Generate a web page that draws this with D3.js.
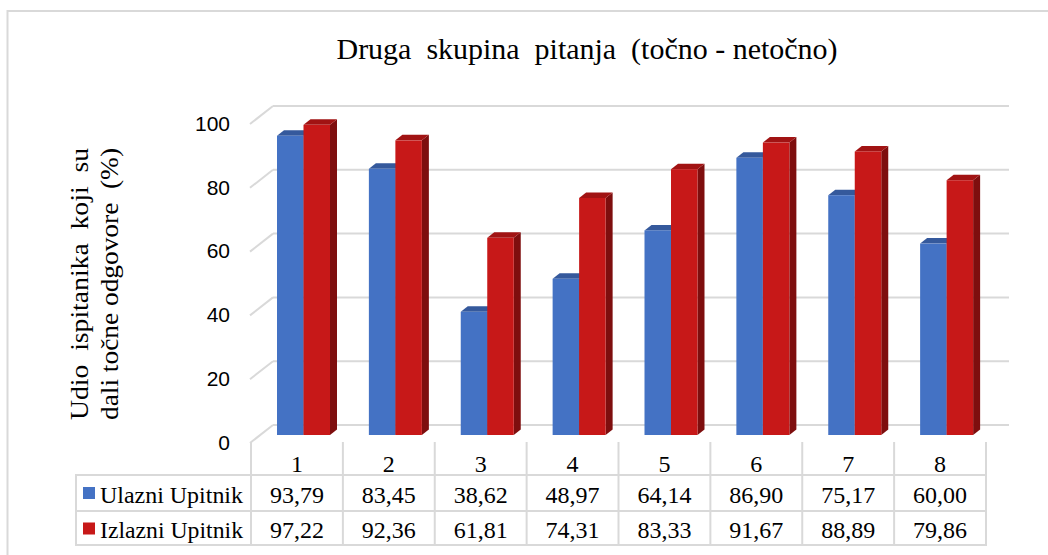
<!DOCTYPE html>
<html>
<head>
<meta charset="utf-8">
<script src="https://cdn.jsdelivr.net/npm/d3@7/dist/d3.min.js"></script>
<style>
  html, body { margin: 0; padding: 0; background: #fff; }
  svg { display: block; }
</style>
</head>
<body>
<svg id="chart" width="1048" height="555"></svg>
<script>
const categories = ["1", "2", "3", "4", "5", "6", "7", "8"];
const seriesNames = ["Ulazni Upitnik", "Izlazni Upitnik"];
const ulazni = [93.79, 83.45, 38.62, 48.97, 64.14, 86.90, 75.17, 60.00];
const izlazni = [97.22, 92.36, 61.81, 74.31, 83.33, 91.67, 88.89, 79.86];
const yTicks = [0, 20, 40, 60, 80, 100];
const title = "Druga  skupina  pitanja  (točno - netočno)";
const yTitle = ["Udio  ispitanika  koji  su", "dali točne odgovore  (%)"];

const fmt = v => v.toFixed(2).replace(".", ",");
const SERIF = '"Liberation Serif"';
const SANS = '"Liberation Sans"';

const svg = d3.select("#chart");
const grid = "#d9d9d9";

// outer border
svg.append("rect").attr("x", 7.5).attr("y", 11).attr("width", 1050).attr("height", 560)
  .attr("fill", "none").attr("stroke", grid).attr("stroke-width", 2);

// scales
const x = d3.scaleBand().domain(categories).range([251, 986]);
const y = d3.scaleLinear().domain([0, 100]).range([435, 116]);
const frontOff = 8, backOff = -10, depthX = 22;
const wallRight = 1009;

// gridlines (back wall + left side diagonal)
const gG = svg.append("g");
yTicks.forEach(v => {
  gG.append("line").attr("x1", 251 + depthX).attr("x2", wallRight)
    .attr("y1", y(v) + backOff).attr("y2", y(v) + backOff)
    .attr("stroke", grid).attr("stroke-width", 2);
  gG.append("line").attr("x1", 250).attr("x2", 251 + depthX)
    .attr("y1", y(v) + frontOff).attr("y2", y(v) + backOff)
    .attr("stroke", grid).attr("stroke-width", 2);
});

// y tick labels via axis
const yFront = d3.scaleLinear().domain([0, 100]).range([435 + frontOff, 116 + frontOff]);
const ax = svg.append("g").attr("transform", "translate(236,0)")
  .call(d3.axisLeft(yFront).tickValues(yTicks).tickSize(0).tickPadding(6));
ax.select(".domain").remove();
ax.selectAll("text").style("font-family", SANS).style("font-size", "21px")
  .attr("fill", "#000").attr("dy", "0.3em");

// bars
const bdx = 7, bdy = -5.5;
const barW = 26.5;
const series = [
  { vals: ulazni, front: "#4472C4", top: "#35599c", side: "#2c4b85", off: 26 },
  { vals: izlazni, front: "#C71818", top: "#a11313", side: "#7e0e0e", off: 26 + barW }
];
const bG = svg.append("g");
categories.forEach((c, i) => {
  series.forEach(s => {
    const x0 = x(c) + s.off, x1 = x0 + barW;
    const yb = y(0), yt = y(s.vals[i]);
    bG.append("path").attr("d", `M${x1},${yt}L${x1 + bdx},${yt + bdy}L${x1 + bdx},${yb + bdy}L${x1},${yb}Z`)
      .attr("fill", s.side);
    bG.append("path").attr("d", `M${x0},${yt}L${x0 + bdx},${yt + bdy}L${x1 + bdx},${yt + bdy}L${x1},${yt}Z`)
      .attr("fill", s.top);
    bG.append("rect").attr("x", x0).attr("y", yt).attr("width", barW).attr("height", yb - yt)
      .attr("fill", s.front);
  });
});

// title
svg.append("text").attr("x", 587).attr("y", 59).attr("text-anchor", "middle")
  .style("font-family", SERIF).style("font-size", "30px").attr("fill", "#000")
  .attr("textLength", 501).attr("lengthAdjust", "spacingAndGlyphs")
  .style("white-space", "pre").text(title);

// y title
const ytX = [88, 118];
yTitle.forEach((t, i) => {
  svg.append("text").attr("transform", `translate(${ytX[i]},284) rotate(-90)`)
    .attr("text-anchor", "middle").style("font-family", SERIF).style("font-size", "25px")
    .attr("fill", "#000").attr("textLength", 272).attr("lengthAdjust", "spacingAndGlyphs")
    .style("white-space", "pre").text(t);
});

// data table
const tG = svg.append("g");
const rows = [442, 475, 511, 545];
const legendX = 76, tableRight = 986;
const colEdges = categories.map(c => x(c)).concat([tableRight]);
colEdges.forEach(cx => {
  tG.append("line").attr("x1", cx).attr("x2", cx).attr("y1", rows[0]).attr("y2", rows[3])
    .attr("stroke", grid).attr("stroke-width", 2);
});
tG.append("line").attr("x1", legendX).attr("x2", legendX).attr("y1", rows[1]).attr("y2", rows[3])
  .attr("stroke", grid).attr("stroke-width", 2);
[rows[1], rows[2], rows[3]].forEach(ry => {
  tG.append("line").attr("x1", legendX - 1).attr("x2", tableRight + 1).attr("y1", ry).attr("y2", ry)
    .attr("stroke", grid).attr("stroke-width", 2);
});
categories.forEach(c => {
  tG.append("text").attr("x", x(c) + x.bandwidth() / 2).attr("y", 471.5).attr("text-anchor", "middle")
    .style("font-family", SERIF).style("font-size", "24px").attr("fill", "#000").text(c);
});
const rowData = [ulazni, izlazni];
const rowBase = [502.5, 538];
rowData.forEach((vals, r) => {
  tG.append("rect").attr("x", 83).attr("y", rowBase[r] - 15.5).attr("width", 12).attr("height", 12)
    .attr("fill", series[r].front);
  tG.append("text").attr("x", 100).attr("y", rowBase[r])
    .style("font-family", SERIF).style("font-size", "24px").attr("fill", "#000")
    .attr("textLength", 143).attr("lengthAdjust", "spacingAndGlyphs").text(seriesNames[r]);
  vals.forEach((v, i) => {
    tG.append("text").attr("x", x(categories[i]) + x.bandwidth() / 2).attr("y", rowBase[r])
      .attr("text-anchor", "middle").style("font-family", SERIF).style("font-size", "24px")
      .attr("fill", "#000").text(fmt(v));
  });
});
</script>
</body>
</html>
